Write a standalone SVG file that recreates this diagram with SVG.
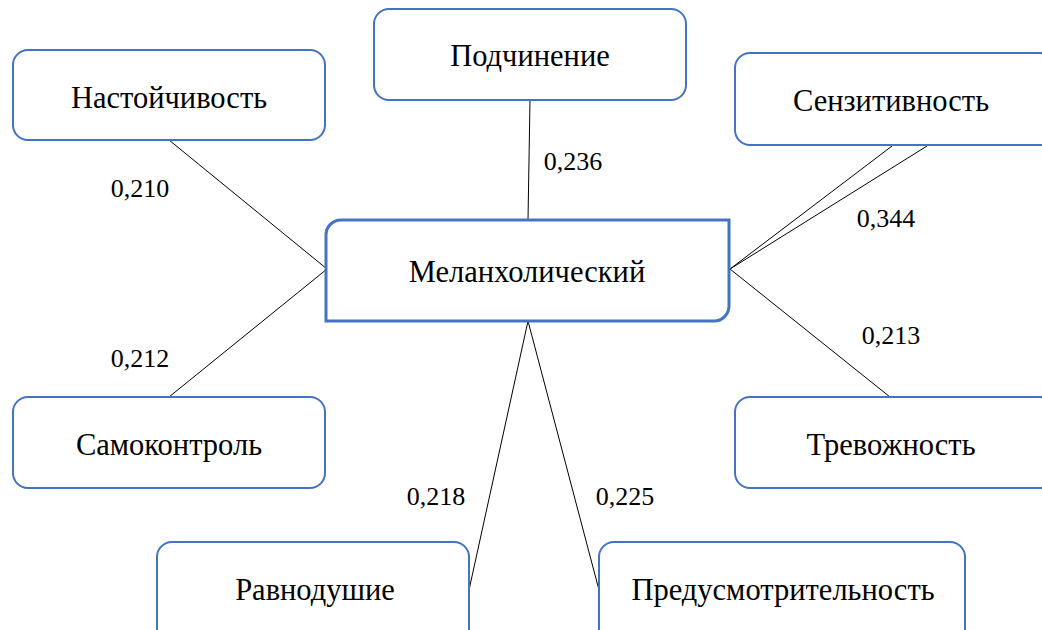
<svg xmlns="http://www.w3.org/2000/svg" width="1042" height="630" viewBox="0 0 1042 630">
  <style>
    .box { fill: #ffffff; stroke: #4472c4; stroke-width: 2; }
    .main { fill: #ffffff; stroke: #4472c4; stroke-width: 3; }
    .link { stroke: #000000; stroke-width: 1; fill: none; }
    .lbl { font-family: "Liberation Serif", "Times New Roman", serif; font-size: 30.5px; fill: #000000; text-anchor: middle; }
    .num { font-family: "Liberation Serif", "Times New Roman", serif; font-size: 26px; fill: #000000; text-anchor: middle; }
  </style>
  <rect width="1042" height="630" fill="#ffffff"/>

  <!-- links from the central node, with their weights -->
  <g id="connectors">
    <line class="link" x1="169" y1="140" x2="327" y2="269"/>
    <line class="link" x1="169" y1="397" x2="327" y2="269"/>
    <line class="link" x1="530" y1="100" x2="528" y2="220"/>
    <line class="link" x1="892" y1="146" x2="730" y2="269"/>
    <line class="link" x1="927" y1="146" x2="730" y2="269"/>
    <line class="link" x1="730" y1="269" x2="890" y2="397"/>
    <line class="link" x1="528" y1="321" x2="469" y2="590"/>
    <line class="link" x1="528" y1="321" x2="599" y2="590"/>
    <text class="num" x="140" y="197">0,210</text>
    <text class="num" x="573" y="170">0,236</text>
    <text class="num" x="886" y="227">0,344</text>
    <text class="num" x="140" y="367">0,212</text>
    <text class="num" x="891" y="344">0,213</text>
    <text class="num" x="436" y="505">0,218</text>
    <text class="num" x="625" y="505">0,225</text>
  </g>

  <g id="node-nastoychivost">
    <rect class="box" x="13" y="50" width="312" height="90" rx="15"/>
    <text class="lbl" x="169" y="108">Настойчивость</text>
  </g>
  <g id="node-podchinenie">
    <rect class="box" x="374" y="9" width="312" height="91" rx="15"/>
    <text class="lbl" x="530" y="66">Подчинение</text>
  </g>
  <g id="node-senzitivnost">
    <rect class="box" x="735" y="53" width="320" height="92" rx="15"/>
    <text class="lbl" x="891" y="111">Сензитивность</text>
  </g>
  <g id="node-melancholic">
    <path class="main" d="M341 220 H729 V306 A15 15 0 0 1 714 321 H326 V235 A15 15 0 0 1 341 220 Z"/>
    <text class="lbl" x="527" y="282">Меланхолический</text>
  </g>
  <g id="node-samokontrol">
    <rect class="box" x="13" y="397" width="312" height="91" rx="15"/>
    <text class="lbl" x="169" y="455">Самоконтроль</text>
  </g>
  <g id="node-trevozhnost">
    <rect class="box" x="735" y="397" width="320" height="91" rx="15"/>
    <text class="lbl" x="891" y="455">Тревожность</text>
  </g>
  <g id="node-ravnodushie">
    <rect class="box" x="157" y="542" width="312" height="110" rx="15"/>
    <text class="lbl" x="315" y="600">Равнодушие</text>
  </g>
  <g id="node-predusmotritelnost">
    <rect class="box" x="599" y="542" width="366" height="110" rx="15"/>
    <text class="lbl" x="783" y="600">Предусмотрительность</text>
  </g>
</svg>
